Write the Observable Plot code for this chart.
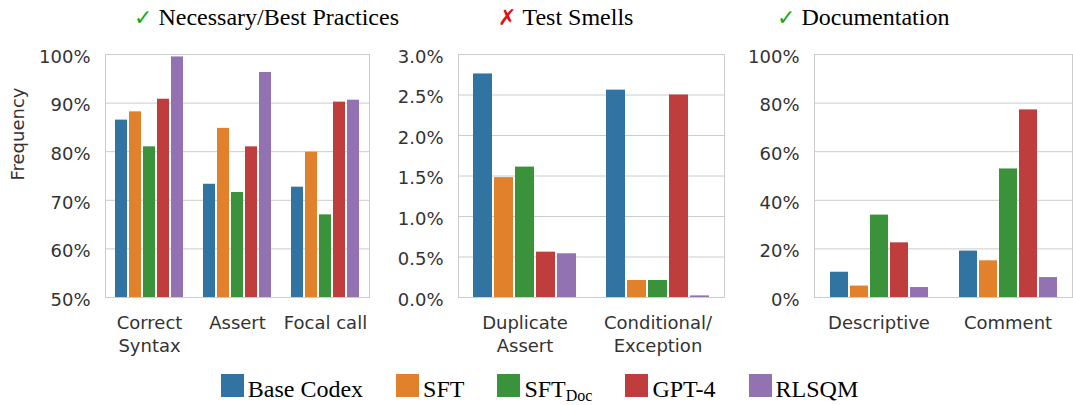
<!DOCTYPE html>
<html><head><meta charset="utf-8">
<script src="https://cdn.jsdelivr.net/npm/d3@7"></script>
<script src="https://cdn.jsdelivr.net/npm/@observablehq/plot@0.6"></script>
<style>
html,body{margin:0;padding:0;background:#fff;}
#root{position:relative;width:1073px;height:405px;overflow:hidden;background:#fff;}
.title{position:absolute;top:5px;font-family:"Liberation Serif",serif;font-size:24px;line-height:24px;color:#000;white-space:nowrap;}
.title .sym{font-family:"DejaVu Sans",sans-serif;font-size:22px;margin-right:6px;}
.panel{position:absolute;top:36px;}
#legend{position:absolute;left:0;top:374px;width:1073px;box-sizing:border-box;padding-left:6px;display:flex;justify-content:center;gap:33px;font-family:"Liberation Serif",serif;font-size:24px;line-height:30px;color:#000;white-space:nowrap;}
.sw{display:inline-block;width:23px;height:23px;margin-right:4px;vertical-align:baseline;}
sub{font-size:16px;vertical-align:-4px;line-height:0;}
</style>
</head><body>
<div id="root"></div>
<script>
const models = ["Base Codex", "SFT", "SFT_Doc", "GPT-4", "RLSQM"];
const colors = ["#3274a1", "#e1812c", "#3a923a", "#c03d3e", "#9372b2"];

const titles = ["✓ Necessary/Best Practices", "✗ Test Smells", "✓ Documentation"];

const practiceCategories = ["Correct\nSyntax", "Assert", "Focal call"];
const practiceValues = [
  [86.5, 88.2, 81.0, 90.8, 99.5],
  [73.3, 84.8, 71.6, 81.0, 96.3],
  [72.7, 79.9, 67.0, 90.2, 90.6]
];
const practiceTicks = [50, 60, 70, 80, 90, 100];

const smellCategories = ["Duplicate\nAssert", "Conditional/\nException"];
const smellValues = [
  [2.76, 1.48, 1.61, 0.56, 0.54],
  [2.56, 0.21, 0.21, 2.50, 0.02]
];
const smellTicks = [0, 0.5, 1.0, 1.5, 2.0, 2.5, 3.0];

const docCategories = ["Descriptive", "Comment"];
const docValues = [
  [10.4, 4.7, 33.9, 22.5, 4.1],
  [19.1, 15.1, 52.9, 77.2, 8.2]
];
const docTicks = [0, 20, 40, 60, 80, 100];

const yLabel = "Frequency";

function panel({categories, values, ticks, fmt, width, marginLeft, marginRight, ylabel}) {
  const data = [];
  categories.forEach((c, i) => models.forEach((m, j) => data.push({category: c, model: m, value: values[i][j]})));
  const marks = [
    Plot.gridY(ticks, {stroke: "#cccccc", strokeOpacity: 1, strokeWidth: 1}),
    Plot.barY(data, {fx: "category", x: "model", y: "value", fill: "model", insetLeft: 1, insetRight: 1, clip: true}),
    Plot.frame({anchor: "left", facetAnchor: "left", stroke: "#cccccc"}),
    Plot.frame({anchor: "right", facetAnchor: "right", stroke: "#cccccc"}),
    Plot.axisY(ticks, {tickSize: 0, tickPadding: 15, tickFormat: fmt, dy: 2.5, label: null, fill: "#333"}),
    Plot.axisFx({anchor: "bottom", tickSize: 0, tickPadding: 16, label: null, lineHeight: 1.25, fill: "#333"})
  ];
  if (ylabel) {
    marks.push(Plot.text([{fx: categories[0], t: ylabel}], {fx: "fx", text: "t", frameAnchor: "left", rotate: -90, lineAnchor: "top", dx: -94, dy: 4.5, fill: "#333"}));
  }
  return Plot.plot({
    width, height: 319, marginTop: 18, marginBottom: 58, marginLeft, marginRight,
    style: {fontFamily: "DejaVu Sans", fontSize: "18px", color: "#333", background: "transparent", overflow: "visible"},
    fx: {domain: categories, padding: 0, label: null},
    x: {domain: models, paddingInner: 0, paddingOuter: 0.625, axis: null},
    y: {domain: [ticks[0], ticks[ticks.length - 1]]},
    color: {domain: models, range: colors},
    marks
  });
}

const root = document.getElementById("root");
const specs = [
  {categories: practiceCategories, values: practiceValues, ticks: practiceTicks, fmt: d => d + "%", left: 0, width: 375, marginLeft: 104, marginRight: 5, ylabel: yLabel},
  {categories: smellCategories, values: smellValues, ticks: smellTicks, fmt: d => d.toFixed(1) + "%", left: 375, width: 354, marginLeft: 83, marginRight: 5},
  {categories: docCategories, values: docValues, ticks: docTicks, fmt: d => d + "%", left: 729, width: 344, marginLeft: 84, marginRight: 1}
];
specs.forEach(s => {
  const div = document.createElement("div");
  div.className = "panel";
  div.style.left = s.left + "px";
  div.appendChild(panel(s));
  root.appendChild(div);
});

const titleLefts = [134, 498, 777];
const symColors = ["#16a816", "#dd1111", "#16a816"];
titles.forEach((t, i) => {
  const d = document.createElement("div");
  d.className = "title";
  d.style.left = titleLefts[i] + "px";
  const sym = document.createElement("span");
  sym.className = "sym";
  sym.style.color = symColors[i];
  sym.textContent = t.slice(0, 1);
  d.appendChild(sym);
  d.appendChild(document.createTextNode(t.slice(2)));
  root.appendChild(d);
});

const legend = document.createElement("div");
legend.id = "legend";
models.forEach((m, i) => {
  const item = document.createElement("span");
  const sw = document.createElement("span");
  sw.className = "sw";
  sw.style.background = colors[i];
  item.appendChild(sw);
  const [main, sub] = m.split("_");
  item.appendChild(document.createTextNode(main));
  if (sub) { const s = document.createElement("sub"); s.textContent = sub; item.appendChild(s); }
  legend.appendChild(item);
});
root.appendChild(legend);
</script>
</body></html>
